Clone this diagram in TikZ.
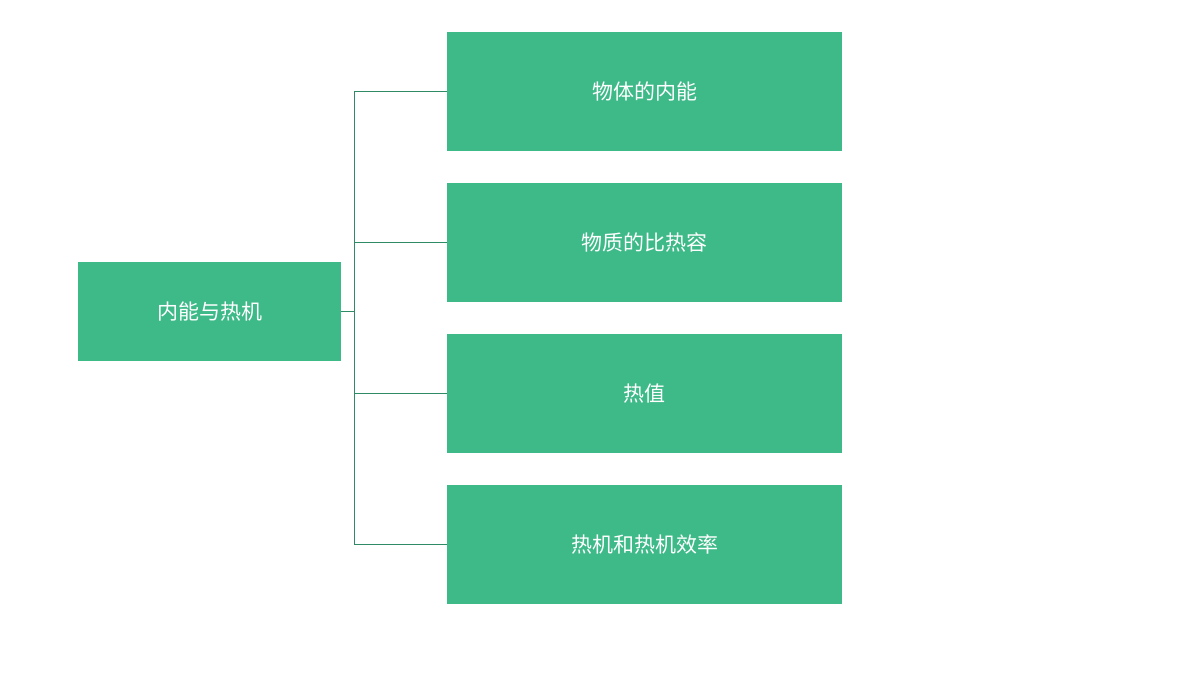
\documentclass[tikz,border=0pt]{standalone}
\usepackage{fontspec}
\newfontfamily\cjk{Noto Sans CJK SC}
\definecolor{boxg}{HTML}{3DBA88}
\definecolor{lineg}{HTML}{2E8B66}
\begin{document}
\begin{tikzpicture}[x=1pt,y=-1pt,
  gbox/.style={fill=boxg,draw=none,text=white,font=\cjk\fontsize{21}{25}\selectfont,inner sep=0pt},
  conn/.style={draw=lineg,line width=1pt}]
\useasboundingbox (0,0) rectangle (1200,675);
\node[gbox,minimum width=263pt,minimum height=99pt] (root) at (209.5,311.5) {内能与热机};
\node[gbox,minimum width=395pt,minimum height=119pt] (a) at (644.5,91.5) {物体的内能};
\node[gbox,minimum width=395pt,minimum height=119pt] (b) at (644.5,242.5) {物质的比热容};
\node[gbox,minimum width=395pt,minimum height=119pt] (c) at (644.5,393.5) {热值};
\node[gbox,minimum width=395pt,minimum height=119pt] (d) at (644.5,544.5) {热机和热机效率};
\coordinate (j) at (354,311.5);
\draw[conn] (root.east) -- (j);
\foreach \n in {a,b,c,d} \draw[conn] (j) |- (\n.west);
\end{tikzpicture}
\end{document}
